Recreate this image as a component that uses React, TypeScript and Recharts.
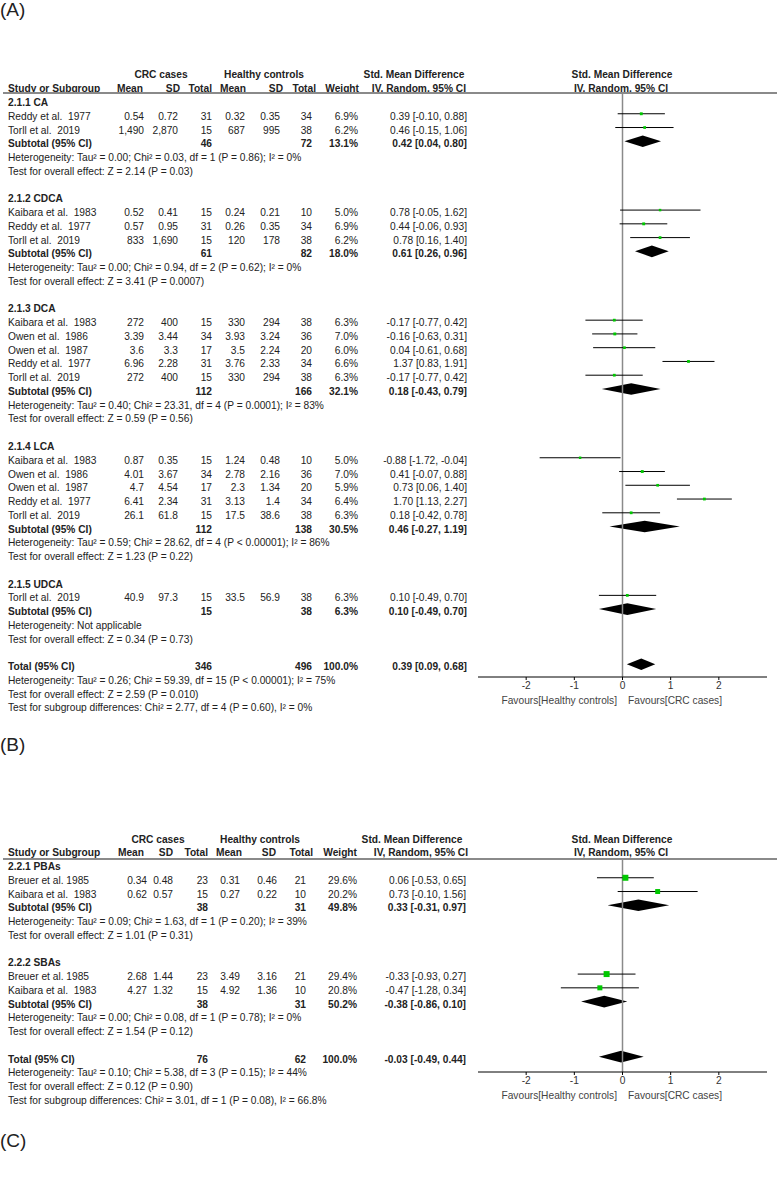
import React from 'react';
import { ScatterChart, Scatter, XAxis, YAxis, ErrorBar, ReferenceLine, ReferenceArea } from 'recharts';

// name, mean (CRC), SD (CRC), n (CRC), mean (HC), SD (HC), n (HC), weight %, SMD, lower, upper
type Study = [string, string, string, number, string, string, number, number, number, number, number];
// n (CRC), n (HC), weight %, SMD, lower, upper
type Pooled = [number, number, number, number, number, number];

const caStudies: Study[] = [
  ['Reddy et al.  1977', '0.54', '0.72', 31, '0.32', '0.35', 34, 6.9, 0.39, -0.1, 0.88],
  ['Torll et al.  2019', '1,490', '2,870', 15, '687', '995', 38, 6.2, 0.46, -0.15, 1.06],
];
const caSubtotal: Pooled = [46, 72, 13.1, 0.42, 0.04, 0.8];
const caNotes = [
  'Heterogeneity: Tau² = 0.00; Chi² = 0.03, df = 1 (P = 0.86); I² = 0%',
  'Test for overall effect: Z = 2.14 (P = 0.03)',
];

const cdcaStudies: Study[] = [
  ['Kaibara et al.  1983', '0.52', '0.41', 15, '0.24', '0.21', 10, 5.0, 0.78, -0.05, 1.62],
  ['Reddy et al.  1977', '0.57', '0.95', 31, '0.26', '0.35', 34, 6.9, 0.44, -0.06, 0.93],
  ['Torll et al.  2019', '833', '1,690', 15, '120', '178', 38, 6.2, 0.78, 0.16, 1.4],
];
const cdcaSubtotal: Pooled = [61, 82, 18.0, 0.61, 0.26, 0.96];
const cdcaNotes = [
  'Heterogeneity: Tau² = 0.00; Chi² = 0.94, df = 2 (P = 0.62); I² = 0%',
  'Test for overall effect: Z = 3.41 (P = 0.0007)',
];

const dcaStudies: Study[] = [
  ['Kaibara et al.  1983', '272', '400', 15, '330', '294', 38, 6.3, -0.17, -0.77, 0.42],
  ['Owen et al.  1986', '3.39', '3.44', 34, '3.93', '3.24', 36, 7.0, -0.16, -0.63, 0.31],
  ['Owen et al.  1987', '3.6', '3.3', 17, '3.5', '2.24', 20, 6.0, 0.04, -0.61, 0.68],
  ['Reddy et al.  1977', '6.96', '2.28', 31, '3.76', '2.33', 34, 6.6, 1.37, 0.83, 1.91],
  ['Torll et al.  2019', '272', '400', 15, '330', '294', 38, 6.3, -0.17, -0.77, 0.42],
];
const dcaSubtotal: Pooled = [112, 166, 32.1, 0.18, -0.43, 0.79];
const dcaNotes = [
  'Heterogeneity: Tau² = 0.40; Chi² = 23.31, df = 4 (P = 0.0001); I² = 83%',
  'Test for overall effect: Z = 0.59 (P = 0.56)',
];

const lcaStudies: Study[] = [
  ['Kaibara et al.  1983', '0.87', '0.35', 15, '1.24', '0.48', 10, 5.0, -0.88, -1.72, -0.04],
  ['Owen et al.  1986', '4.01', '3.67', 34, '2.78', '2.16', 36, 7.0, 0.41, -0.07, 0.88],
  ['Owen et al.  1987', '4.7', '4.54', 17, '2.3', '1.34', 20, 5.9, 0.73, 0.06, 1.4],
  ['Reddy et al.  1977', '6.41', '2.34', 31, '3.13', '1.4', 34, 6.4, 1.7, 1.13, 2.27],
  ['Torll et al.  2019', '26.1', '61.8', 15, '17.5', '38.6', 38, 6.3, 0.18, -0.42, 0.78],
];
const lcaSubtotal: Pooled = [112, 138, 30.5, 0.46, -0.27, 1.19];
const lcaNotes = [
  'Heterogeneity: Tau² = 0.59; Chi² = 28.62, df = 4 (P < 0.00001); I² = 86%',
  'Test for overall effect: Z = 1.23 (P = 0.22)',
];

const udcaStudies: Study[] = [
  ['Torll et al.  2019', '40.9', '97.3', 15, '33.5', '56.9', 38, 6.3, 0.1, -0.49, 0.7],
];
const udcaSubtotal: Pooled = [15, 38, 6.3, 0.1, -0.49, 0.7];
const udcaNotes = ['Heterogeneity: Not applicable', 'Test for overall effect: Z = 0.34 (P = 0.73)'];

const totalA: Pooled = [346, 496, 100.0, 0.39, 0.09, 0.68];
const totalANotes = [
  'Heterogeneity: Tau² = 0.26; Chi² = 59.39, df = 15 (P < 0.00001); I² = 75%',
  'Test for overall effect: Z = 2.59 (P = 0.010)',
  'Test for subgroup differences: Chi² = 2.77, df = 4 (P = 0.60), I² = 0%',
];

const pbaStudies: Study[] = [
  ['Breuer et al. 1985', '0.34', '0.48', 23, '0.31', '0.46', 21, 29.6, 0.06, -0.53, 0.65],
  ['Kaibara et al.  1983', '0.62', '0.57', 15, '0.27', '0.22', 10, 20.2, 0.73, -0.1, 1.56],
];
const pbaSubtotal: Pooled = [38, 31, 49.8, 0.33, -0.31, 0.97];
const pbaNotes = [
  'Heterogeneity: Tau² = 0.09; Chi² = 1.63, df = 1 (P = 0.20); I² = 39%',
  'Test for overall effect: Z = 1.01 (P = 0.31)',
];

const sbaStudies: Study[] = [
  ['Breuer et al. 1985', '2.68', '1.44', 23, '3.49', '3.16', 21, 29.4, -0.33, -0.93, 0.27],
  ['Kaibara et al.  1983', '4.27', '1.32', 15, '4.92', '1.36', 10, 20.8, -0.47, -1.28, 0.34],
];
const sbaSubtotal: Pooled = [38, 31, 50.2, -0.38, -0.86, 0.1];
const sbaNotes = [
  'Heterogeneity: Tau² = 0.00; Chi² = 0.08, df = 1 (P = 0.78); I² = 0%',
  'Test for overall effect: Z = 1.54 (P = 0.12)',
];

const totalB: Pooled = [76, 62, 100.0, -0.03, -0.49, 0.44];
const totalBNotes = [
  'Heterogeneity: Tau² = 0.10; Chi² = 5.38, df = 3 (P = 0.15); I² = 44%',
  'Test for overall effect: Z = 0.12 (P = 0.90)',
  'Test for subgroup differences: Chi² = 3.01, df = 1 (P = 0.08), I² = 66.8%',
];

const xTicks = [-2, -1, 0, 1, 2];
const colHeaders = ['Mean', 'SD', 'Total', 'Mean', 'SD', 'Total', 'Weight', 'IV, Random, 95% CI'];

const FONT = 'Arial, "Liberation Sans", Helvetica, sans-serif';
const INK = '#222';
const PITCH = 13.76;
const FS = 10.2;

type Group = { label: string; studies: Study[]; subtotal: Pooled; notes: string[] };
type Line = { k: number; kind: 'group' | 'study' | 'sub' | 'note'; label: string; study?: Study; pooled?: Pooled };

function buildLines(groups: Group[], total: Pooled, totalNotes: string[]): Line[] {
  const out: Line[] = [];
  let k = 0;
  groups.forEach((g) => {
    out.push({ k: k++, kind: 'group', label: g.label });
    g.studies.forEach((s) => out.push({ k: k++, kind: 'study', label: s[0], study: s }));
    out.push({ k: k++, kind: 'sub', label: 'Subtotal (95% CI)', pooled: g.subtotal });
    g.notes.forEach((n) => out.push({ k: k++, kind: 'note', label: n }));
    k++;
  });
  out.push({ k: k++, kind: 'sub', label: 'Total (95% CI)', pooled: total });
  totalNotes.forEach((n) => out.push({ k: k++, kind: 'note', label: n }));
  return out;
}

const ci = (est: number, lo: number, hi: number) => `${est.toFixed(2)} [${lo.toFixed(2)}, ${hi.toFixed(2)}]`;

const T = ({ x, y, align = 'left', bold = false, size = FS, color = INK, children }: any) => (
  <div
    style={{
      position: 'absolute',
      left: x,
      top: y - 7,
      height: 14,
      lineHeight: '14px',
      fontSize: size,
      fontWeight: bold ? 700 : 400,
      color,
      fontFamily: FONT,
      whiteSpace: 'pre',
      transform: align === 'right' ? 'translateX(-100%)' : align === 'center' ? 'translateX(-50%)' : undefined,
    }}
  >
    {children}
  </div>
);

const square = (props: any) => {
  const { cx, cy, payload } = props;
  const s = 1.1 * Math.sqrt(payload.w);
  return <rect x={cx - s / 2} y={cy - s / 2} width={s} height={s} fill="#00c800" />;
};

const diamond = (est: number, lo: number, hi: number) => (props: any) => {
  const { x, y, width, height } = props;
  const cx = x + (width * (est - lo)) / (hi - lo);
  const cy = y + height / 2;
  return <polygon points={`${x},${cy} ${cx},${y} ${x + width},${cy} ${cx},${y + height}`} fill="#000" />;
};

type PanelCfg = {
  head1: number;
  head2: number;
  lineY: number;
  row0: number;
  axisY: number;
  favY: number;
  cols: number[];
  heads: number[];
  spans: number[];
  lines: Line[];
};

const Panel = ({ cfg }: { cfg: PanelCfg }) => {
  const { head1, head2, lineY, row0, axisY, favY, cols, heads, spans, lines } = cfg;
  const mark0 = row0 - 3;
  const yDomain = [(lineY - mark0) / PITCH, (axisY - mark0) / PITCH];
  const points = lines
    .filter((l) => l.kind === 'study')
    .map((l) => {
      const s = l.study as Study;
      return { x: s[8], y: l.k, err: [s[8] - s[9], s[10] - s[8]], w: s[7] };
    });
  const pooled = lines.filter((l) => l.kind === 'sub');

  return (
    <>
      <T x={spans[0]} y={head1} align="center" bold>CRC cases</T>
      <T x={spans[1]} y={head1} align="center" bold>Healthy controls</T>
      <T x={spans[2]} y={head1} align="center" bold>Std. Mean Difference</T>
      <T x={622} y={head1} align="center" bold>Std. Mean Difference</T>
      <T x={8} y={head2} bold>Study or Subgroup</T>
      {colHeaders.map((h, i) => (
        <T key={i} x={heads[i]} y={head2} align="right" bold>{h}</T>
      ))}
      <T x={621} y={head2} align="center" bold>IV, Random, 95% CI</T>
      <div style={{ position: 'absolute', left: 3, top: lineY - 1, width: 774, height: 2, background: '#8a8a8a' }} />

      {lines.map((l) => {
        const y = row0 + l.k * PITCH;
        if (l.kind === 'group') return <T key={l.k} x={8} y={y} bold>{l.label}</T>;
        if (l.kind === 'note') return <T key={l.k} x={8} y={y}>{l.label}</T>;
        if (l.kind === 'study') {
          const s = l.study as Study;
          const vals = [s[1], s[2], String(s[3]), s[4], s[5], String(s[6]), `${s[7].toFixed(1)}%`, ci(s[8], s[9], s[10])];
          return (
            <React.Fragment key={l.k}>
              <T x={8} y={y}>{l.label}</T>
              {vals.map((v, i) => (
                <T key={i} x={cols[i]} y={y} align="right">{v}</T>
              ))}
            </React.Fragment>
          );
        }
        const p = l.pooled as Pooled;
        return (
          <React.Fragment key={l.k}>
            <T x={8} y={y} bold>{l.label}</T>
            <T x={cols[2]} y={y} align="right" bold>{String(p[0])}</T>
            <T x={cols[5]} y={y} align="right" bold>{String(p[1])}</T>
            <T x={cols[6]} y={y} align="right" bold>{`${p[2].toFixed(1)}%`}</T>
            <T x={cols[7]} y={y} align="right" bold>{ci(p[3], p[4], p[5])}</T>
          </React.Fragment>
        );
      })}

      <div style={{ position: 'absolute', left: 470, top: lineY - 5 }}>
        <ScatterChart width={307} height={5 + (axisY - lineY) + 40} margin={{ top: 5, right: 10, bottom: 0, left: 8 }}>
          <XAxis
            type="number"
            dataKey="x"
            domain={[-3, 3]}
            ticks={xTicks}
            interval={0}
            allowDataOverflow
            height={40}
            axisLine={{ stroke: '#000' }}
            tickLine={{ stroke: '#000' }}
            tickSize={3}
            tick={{ fill: '#333', fontSize: FS, fontFamily: FONT }}
          />
          <YAxis type="number" dataKey="y" domain={yDomain} reversed hide allowDataOverflow />
          <ReferenceLine x={0} stroke="#8a8a8a" strokeWidth={1.5} />
          {pooled.map((l) => {
            const p = l.pooled as Pooled;
            return (
              <ReferenceArea
                key={l.k}
                x1={p[4]}
                x2={p[5]}
                y1={l.k - 0.42}
                y2={l.k + 0.42}
                ifOverflow="visible"
                shape={diamond(p[3], p[4], p[5])}
              />
            );
          })}
          <Scatter data={points} shape={square} isAnimationActive={false}>
            <ErrorBar dataKey="err" direction="x" width={0} stroke="#000" strokeWidth={1} />
          </Scatter>
        </ScatterChart>
      </div>
      <T x={617} y={favY} align="right" color="#444">Favours[Healthy controls]</T>
      <T x={628} y={favY} color="#444">Favours[CRC cases]</T>
    </>
  );
};

const panelA: PanelCfg = {
  head1: 75,
  head2: 89,
  lineY: 93,
  row0: 103,
  axisY: 677,
  favY: 701,
  cols: [144, 178, 212, 245, 280, 312, 358, 467],
  heads: [143, 180, 212, 246, 283, 316, 359, 466],
  spans: [161, 264, 414],
  lines: buildLines(
    [
      { label: '2.1.1 CA', studies: caStudies, subtotal: caSubtotal, notes: caNotes },
      { label: '2.1.2 CDCA', studies: cdcaStudies, subtotal: cdcaSubtotal, notes: cdcaNotes },
      { label: '2.1.3 DCA', studies: dcaStudies, subtotal: dcaSubtotal, notes: dcaNotes },
      { label: '2.1.4 LCA', studies: lcaStudies, subtotal: lcaSubtotal, notes: lcaNotes },
      { label: '2.1.5 UDCA', studies: udcaStudies, subtotal: udcaSubtotal, notes: udcaNotes },
    ],
    totalA,
    totalANotes
  ),
};

const panelB: PanelCfg = {
  head1: 840,
  head2: 853,
  lineY: 859,
  row0: 867,
  axisY: 1072,
  favY: 1096,
  cols: [147, 173, 208, 240, 277, 306, 357, 466],
  heads: [144, 173, 208, 242, 276, 313, 357, 468],
  spans: [158, 260, 412],
  lines: buildLines(
    [
      { label: '2.2.1 PBAs', studies: pbaStudies, subtotal: pbaSubtotal, notes: pbaNotes },
      { label: '2.2.2 SBAs', studies: sbaStudies, subtotal: sbaSubtotal, notes: sbaNotes },
    ],
    totalB,
    totalBNotes
  ),
};

export default function App() {
  return (
    <div style={{ position: 'absolute', left: 0, top: 0, width: 777, height: 1181, background: '#fff', fontFamily: FONT }}>
      <T x={0} y={10} size={19}>(A)</T>
      <Panel cfg={panelA} />
      <T x={0} y={745} size={19}>(B)</T>
      <Panel cfg={panelB} />
      <T x={0} y={1141} size={19}>(C)</T>
    </div>
  );
}
